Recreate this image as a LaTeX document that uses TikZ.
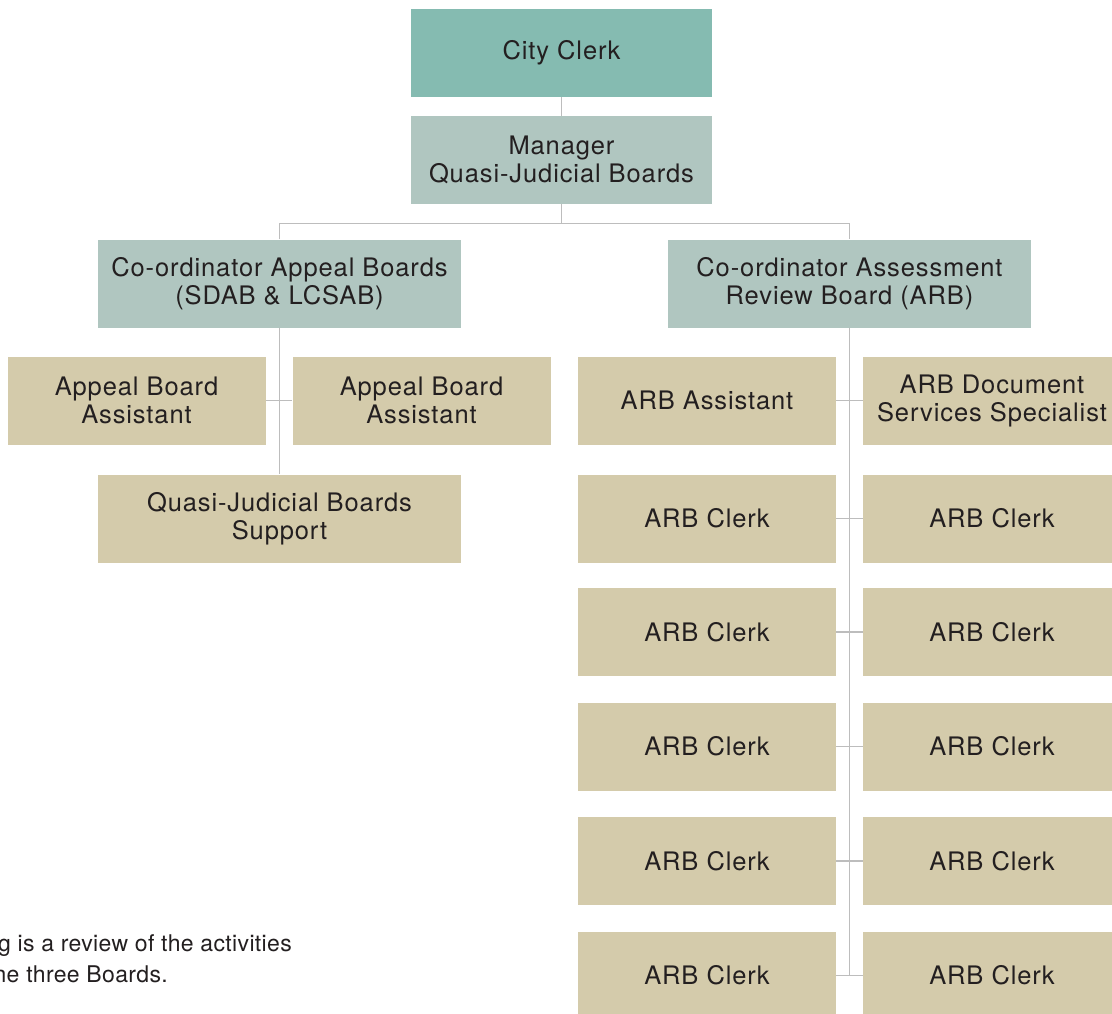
\documentclass[tikz,border=0pt]{standalone}
\usepackage{fontspec}
\setmainfont{TeX Gyre Heros}
\newfontfamily\boxfont[LetterSpace=3.5]{TeX Gyre Heros}
\newfontfamily\notefont[LetterSpace=1.5]{TeX Gyre Heros}
\usepackage{xcolor}
\usepackage{tikz}
\usetikzlibrary{positioning}

\definecolor{clerkteal}{HTML}{85BBB1}
\definecolor{boardgrey}{HTML}{B0C6C0}
\definecolor{stafftan}{HTML}{D4CBAB}
\definecolor{linkgrey}{HTML}{BDBDBD}
\definecolor{inkdark}{HTML}{231F20}

\tikzset{
  unit/.style={inner sep=0pt, minimum height=88pt, align=center, text=inkdark,
    font=\boxfont\fontsize{25.5}{28}\selectfont},
  head/.style={unit, fill=clerkteal, minimum width=301pt},
  board/.style={unit, fill=boardgrey},
  staff/.style={unit, fill=stafftan, minimum width=258pt},
  link/.style={draw=linkgrey, line width=1.3pt}
}

\begin{document}
\begin{tikzpicture}[x=1pt, y=-1pt]
  \clip (0, 0) rectangle (1112, 1013);
  \fill[white] (0, 0) rectangle (1112, 1013);

  % top of the chart
  \node[head] (city) at (561.5, 53) {City Clerk};
  \node[board, minimum width=301pt] (mgr) at (561.5, 160) {Manager\\Quasi-Judicial Boards};
  \node[board, minimum width=363pt] (coorda) at (279.5, 283.5) {Co-ordinator Appeal Boards\\(SDAB \& LCSAB)};
  \node[board, minimum width=363pt] (coordb) at (849.5, 283.5) {Co-ordinator Assessment\\Review Board (ARB)};

  % appeal boards side
  \node[staff] (abal) at (136.5, 400.5) {Appeal Board\\Assistant};
  \node[staff] (abar) at (421.5, 400.5) {Appeal Board\\Assistant};
  \node[staff, minimum width=363pt] (qjs) at (279.5, 518.5) {Quasi-Judicial Boards\\Support};

  % ARB side
  \node[staff] (arbl1) at (707, 400.5) {ARB Assistant};
  \node[staff] (arbr1) at (992, 400.5) {ARB Document\\Services Specialist};
  \foreach \r/\y in {2/518.5, 3/632, 4/746.5, 5/861, 6/975.5}{
    \node[staff] (arbl\r) at (707, \y) {ARB Clerk};
    \node[staff] (arbr\r) at (992, \y) {ARB Clerk};
  }

  % connectors
  \coordinate (bus) at (561.5, 223.5);
  \draw[link] (city) -- (mgr);
  \draw[link] (mgr) -- (bus);
  \draw[link] (coorda.north) -- (coorda.north |- bus) -- (coordb.north |- bus) -- (coordb.north);
  \draw[link] (coorda) -- (qjs);
  \draw[link] (abal) -- (abar);
  \draw[link] (coordb.south) -- (coordb.south |- arbl6);
  \foreach \r in {1, ..., 6}{
    \draw[link] (arbl\r) -- (arbr\r);
  }

  % note text, cut at the page edge
  \node[anchor=base east, inner sep=0pt, text=inkdark, font=\notefont\fontsize{23}{24}\selectfont] (notea) at (292, 951.5) {g is a review of the activities};
  \node[anchor=base east, inner sep=0pt, text=inkdark, font=\notefont\fontsize{23}{24}\selectfont] (noteb) at (168, 982.5) {he three Boards.};
\end{tikzpicture}
\end{document}
